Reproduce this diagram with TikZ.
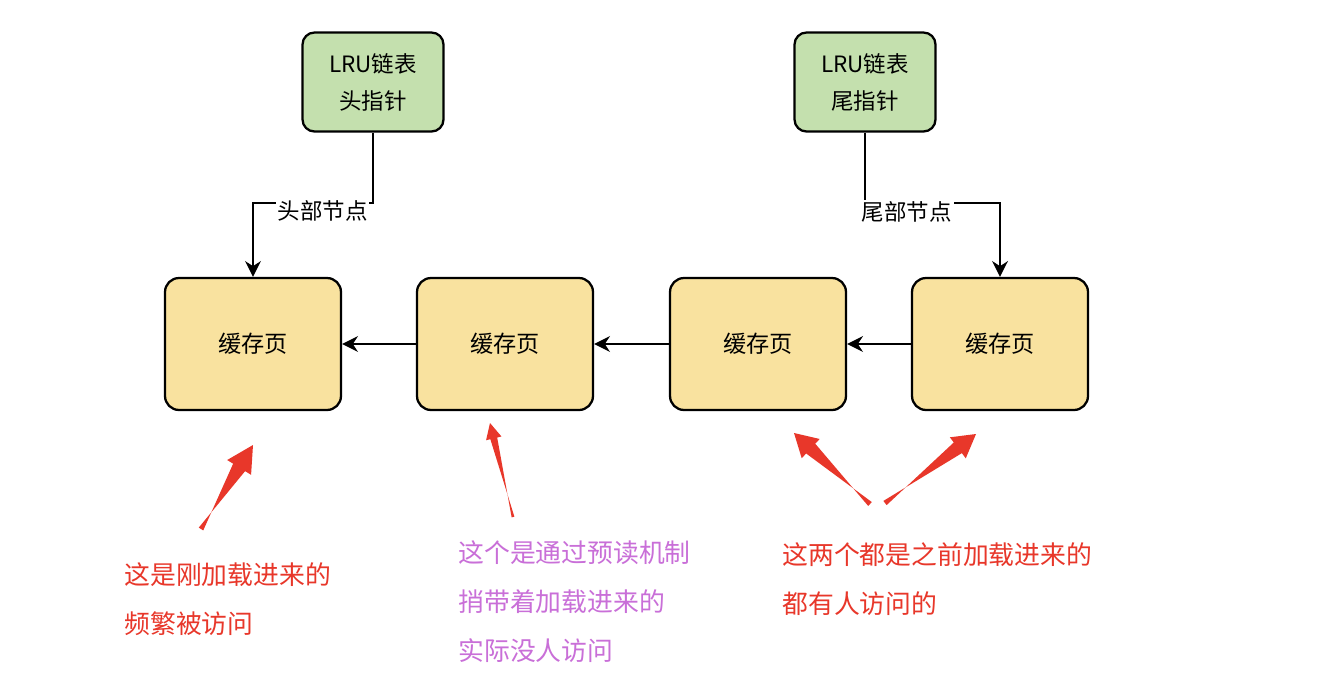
\documentclass[tikz,border=0pt]{standalone}
\usepackage{fontspec}
\setmainfont{Noto Sans CJK SC}
\usetikzlibrary{arrows.meta,calc}

\definecolor{ptrgreen}{HTML}{C4E0AE}
\definecolor{pageyellow}{HTML}{F9E29F}
\definecolor{notered}{HTML}{E8372A}
\definecolor{notepurple}{HTML}{C96FD8}

% tapered red arrow: tail, tip, head length, head half width, neck half width, tail half width
\newcommand{\redarrow}[6]{%
  \coordinate (neck) at ($(#2)!#3!(#1)$);
  \fill[notered] ($(#1)!#6!90:(#2)$) -- ($(neck)!#5!-90:(#2)$) -- ($(neck)!#4!-90:(#2)$)
    -- (#2) -- ($(neck)!#4!90:(#2)$) -- ($(neck)!#5!90:(#2)$) -- ($(#1)!#6!-90:(#2)$) -- cycle;
}

\begin{document}
\begin{tikzpicture}[x=0.02cm,y=-0.02cm,
    pointer/.style={draw=black, line width=1.3pt, rounded corners=0.24cm, fill=ptrgreen,
      minimum width=2.82cm, minimum height=1.98cm, align=center,
      font=\fontsize{12.8}{21}\selectfont},
    page/.style={draw=black, line width=1.3pt, rounded corners=0.28cm, fill=pageyellow,
      minimum width=3.52cm, minimum height=2.64cm, font=\fontsize{13.2}{15}\selectfont},
    link/.style={draw=black, line width=1.1pt, -{Stealth[length=9pt,width=9pt]}},
    lbl/.style={fill=white, inner sep=1pt, font=\fontsize{12.8}{15}\selectfont},
    note/.style={anchor=north west, inner sep=0pt, align=left, font=\fontsize{14.7}{28}\selectfont}]
    \useasboundingbox (0,0) rectangle (1324,694);
    \fill[white] (0,0) rectangle (1324,694);

    \node[pointer] (head) at (373,82) {LRU链表\\头指针};
    \node[pointer] (tail) at (865,82) {LRU链表\\尾指针};

    \node[page] (p1) at (253,344) {缓存页};
    \node[page] (p2) at (505,344) {缓存页};
    \node[page] (p3) at (758,344) {缓存页};
    \node[page] (p4) at (1000,344) {缓存页};

    \draw[link] (p2) -- (p1);
    \draw[link] (p3) -- (p2);
    \draw[link] (p4) -- (p3);

    \coordinate (hbend) at (373,203);
    \coordinate (tbend) at (865,203);
    \draw[link] (head.south) -- (hbend) -| node[pos=0.21, lbl, yshift=-0.16cm]{头部节点} (p1.north);
    \draw[link] (tail.south) -- (tbend) -| node[pos=0.155, lbl, yshift=-0.18cm]{尾部节点} (p4.north);

    % red pointing arrows
    \coordinate (a1) at (201,529); \coordinate (b1) at (253,445);
    \coordinate (a2) at (513,517); \coordinate (b2) at (490,423);
    \coordinate (a3) at (870,504); \coordinate (b3) at (794,433);
    \coordinate (a4) at (885,503); \coordinate (b4) at (976,434);
    \redarrow{a1}{b1}{15pt}{8pt}{4pt}{1.5pt}
    \redarrow{a2}{b2}{9pt}{4.5pt}{2pt}{0.8pt}
    \redarrow{a3}{b3}{13pt}{7.5pt}{3.8pt}{1.5pt}
    \redarrow{a4}{b4}{13pt}{7.5pt}{3.8pt}{1.5pt}

    \node[note, text=notered] (n1) at (124,562) {这是刚加载进来的\\频繁被访问};
    \node[note, text=notepurple] (n2) at (458,540) {这个是通过预读机制\\捎带着加载进来的\\实际没人访问};
    \node[note, text=notered] (n3) at (782,542) {这两个都是之前加载进来的\\都有人访问的};
\end{tikzpicture}
\end{document}
